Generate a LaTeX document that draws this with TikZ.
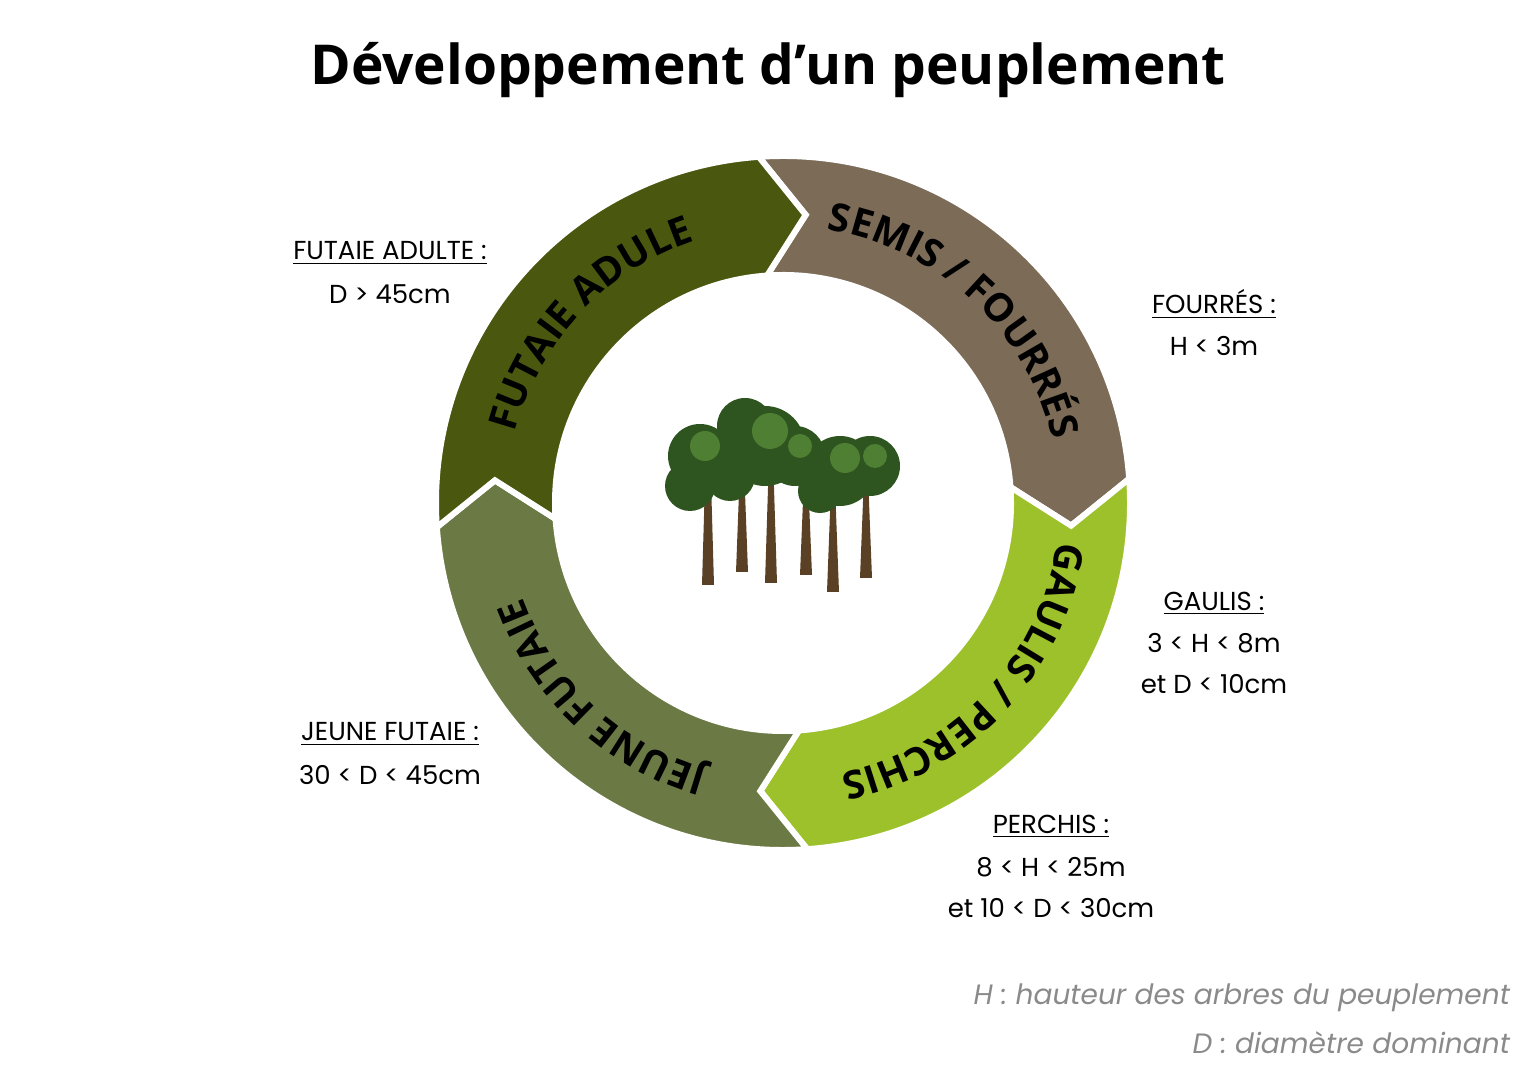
\documentclass[tikz,border=0pt]{standalone}
\usepackage{fontspec}
\setmainfont{Poppins}
\newfontfamily\headfont{Open Sans}
\usetikzlibrary{decorations.text}
\definecolor{adulte}{HTML}{4A570F}
\definecolor{semis}{HTML}{7B6B57}
\definecolor{gaulis}{HTML}{9DC12A}
\definecolor{jeune}{HTML}{6B7A45}
\definecolor{trunk}{HTML}{5A4025}
\definecolor{leafdark}{HTML}{2E5420}
\definecolor{leaflight}{HTML}{4E7F32}
\definecolor{note}{HTML}{8A8A8A}

% one chevron segment of the ring: start angle, colour
\newcommand\ringpart[2]{%
  \fill[#2,draw=white,line width=3pt,line join=miter]
    (#1:347) arc[start angle=#1,end angle=#1-90,radius=347]
    -- (#1-98.5:289) -- (#1-90:228)
    arc[start angle=#1-90,end angle=#1,radius=228]
    -- (#1-8.5:289) -- cycle;}
% curved bold text on the ring: middle angle, text
\newcommand\ringtext[2]{%
  \path[decorate,decoration={text along path,text align=center,
      text={|\headfont\bfseries\fontsize{19.5}{19.5}\selectfont|#2}}]
    (#1+60:277) arc[start angle=#1+60,end angle=#1-60,radius=277];}

\begin{document}
\begin{tikzpicture}[x=0.5pt,y=0.5pt,
  lab/.style={font=\fontsize{13}{13}\selectfont,inner sep=1pt},
  foot/.style={font=\fontsize{14}{14}\selectfont\itshape,text=note,anchor=east}]
  \useasboundingbox (0,0) rectangle (1536,1086);

  \node[font=\headfont\bfseries\fontsize{27.5}{27.5}\selectfont] (title) at (768,1016) {Développement d’un peuplement};

  \begin{scope}[shift={(783,583)}]
    \ringpart{94}{semis}
    \ringpart{4}{gaulis}
    \ringpart{-86}{jeune}
    \ringpart{184}{adulte}
    \ringtext{137}{FUTAIE ADULE}
    \ringtext{47}{SEMIS / FOURRÉS}
    \ringtext{-43}{GAULIS / PERCHIS}
    \ringtext{-133}{JEUNE FUTAIE}
  \end{scope}

  % trees
  \foreach \x/\b/\t in {708/501/640,742/514/620,771/503/630,806/511/610,833/494/600,866/508/610}
    \fill[trunk] (\x-6,\b) -- (\x+6,\b) -- (\x+2,\t) -- (\x-2,\t) -- cycle;
  \foreach \x/\y/\r in {700/630/32,690/600/25,765/640/40,745/660/28,795/630/30,
      840/615/35,870/620/30,820/595/22,730/610/25}
    \fill[leafdark] (\x,\y) circle[radius=\r];
  \foreach \x/\y/\r in {705/640/15,770/655/18,845/628/15,875/630/12,800/640/12}
    \fill[leaflight] (\x,\y) circle[radius=\r];

  \node[lab] (fa) at (390,833) {\underline{FUTAIE ADULTE :}};
  \node[lab] (fad) at (390,792) {D > 45cm};
  \node[lab] (fo) at (1214,782) {\underline{FOURRÉS :}};
  \node[lab] (foh) at (1214,740) {H < 3m};
  \node[lab] (ga) at (1214,483) {\underline{GAULIS :}};
  \node[lab] (gah) at (1214,443) {3 < H < 8m};
  \node[lab] (gad) at (1214,402) {et D < 10cm};
  \node[lab] (jf) at (390,352) {\underline{JEUNE FUTAIE :}};
  \node[lab] (jfd) at (390,311) {30 < D < 45cm};
  \node[lab] (pe) at (1051,260) {\underline{PERCHIS :}};
  \node[lab] (peh) at (1051,219) {8 < H < 25m};
  \node[lab] (ped) at (1051,178) {et 10 < D < 30cm};

  \node[foot] (fh) at (1517,88) {H : hauteur des arbres du peuplement};
  \node[foot] (fd) at (1517,43) {D : diamètre dominant};
\end{tikzpicture}
\end{document}
